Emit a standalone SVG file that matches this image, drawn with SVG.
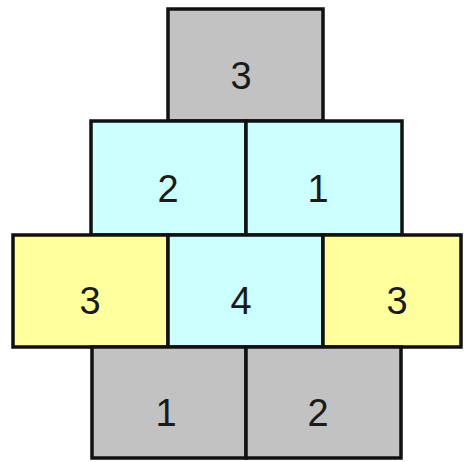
<svg xmlns="http://www.w3.org/2000/svg" width="474" height="462" viewBox="0 0 474 462">
<style>
rect{stroke:#111;stroke-width:3.5}
.g{fill:#c2c2c2}.c{fill:#ccffff}.y{fill:#ffff9e}
text{font-family:"Liberation Sans",Arial,sans-serif;font-size:38px;fill:#1a1a1a;text-anchor:middle;dominant-baseline:central}
</style>
<rect width="474" height="462" fill="#fff" style="stroke:none"/>
<g id="top"><rect class="g" x="168" y="9" width="155" height="112"/><text x="241" y="76">3</text></g>
<g id="r2a"><rect class="c" x="91" y="121" width="155" height="114"/><text x="168" y="189">2</text></g>
<g id="r2b"><rect class="c" x="246" y="121" width="156" height="114"/><text x="318" y="189">1</text></g>
<g id="r3a"><rect class="y" x="13" y="235" width="155" height="112"/><text x="90" y="301">3</text></g>
<g id="r3b"><rect class="c" x="168" y="235" width="155" height="112"/><text x="241" y="301">4</text></g>
<g id="r3c"><rect class="y" x="323" y="235" width="138" height="112"/><text x="397" y="301">3</text></g>
<g id="r4a"><rect class="g" x="92" y="347" width="154" height="111"/><text x="166" y="413">1</text></g>
<g id="r4b"><rect class="g" x="246" y="347" width="155" height="111"/><text x="318" y="413">2</text></g>
<g id="connectors"></g>
</svg>
